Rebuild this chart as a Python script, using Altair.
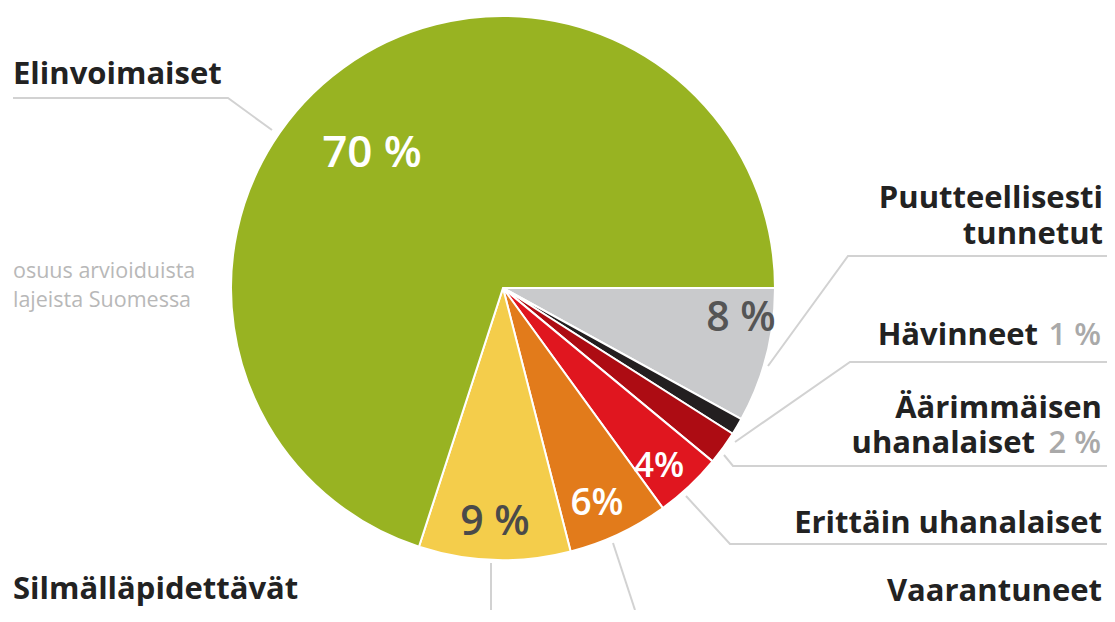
import math
import altair as alt
import pandas as pd

# ---- data ----
categories = ["Puutteellisesti tunnetut", "Hävinneet", "Äärimmäisen uhanalaiset",
              "Erittäin uhanalaiset", "Vaarantuneet", "Silmälläpidettävät", "Elinvoimaiset"]
shares = [8, 1, 2, 4, 6, 9, 70]
colors = ["#c9cacc", "#231f20", "#ad0c13", "#e0161f", "#e27b1b", "#f4cd4b", "#98b322"]

pct_labels = ["8 %", "9 %", "6%", "4%", "70 %"]

# ---- layout (image pixel coordinates) ----
W, H = 1099, 602
CX, CY, R = 503, 288, 272

pie_df = pd.DataFrame({"cat": categories, "value": shares, "idx": list(range(len(categories)))})

xs = alt.Scale(domain=[8, 8 + W], nice=False, zero=False)
ys = alt.Scale(domain=[8, 8 + H], nice=False, zero=False, reverse=True)

pie = alt.Chart(pie_df).mark_arc(outerRadius=R, stroke="white", strokeWidth=2).encode(
    theta=alt.Theta("value:Q", stack=True,
                    scale=alt.Scale(range=[math.pi / 2, math.pi / 2 + 2 * math.pi])),
    color=alt.Color("cat:N", scale=alt.Scale(domain=categories, range=colors), legend=None),
    order=alt.Order("idx:Q"),
    x=alt.value(CX - 8),
    y=alt.value(CY - 8),
)

# leader lines
lines = [
    ("a", [(13, 98), (228, 98), (272, 130)]),
    ("b", [(1107, 256), (848, 256), (768, 366)]),
    ("c", [(1107, 362), (850, 362), (735, 442)]),
    ("d", [(1107, 466), (733, 466), (724, 455)]),
    ("e", [(1107, 544), (730, 544), (686, 496)]),
    ("f", [(613, 543), (635, 610)]),
    ("g", [(491, 563), (491, 610)]),
]
rows = []
for lid, pts in lines:
    for i, (x, y) in enumerate(pts):
        rows.append({"lid": lid, "o": i, "x": x, "y": y})
line_df = pd.DataFrame(rows)
leaders = alt.Chart(line_df).mark_line(color="#d2d2d2", strokeWidth=2, clip=True).encode(
    x=alt.X("x:Q", scale=xs, axis=None),
    y=alt.Y("y:Q", scale=ys, axis=None),
    detail="lid:N",
    order="o:Q",
)

FONT = "Open Sans"
FS = 31

left_df = pd.DataFrame({"t": ["Elinvoimaiset", "Silmälläpidettävät"], "x": [13, 13], "y": [84, 599]})
left_txt = alt.Chart(left_df).mark_text(align="left", baseline="alphabetic", font=FONT,
                                        fontWeight="bold", fontSize=FS, color="#222222").encode(
    x=alt.X("x:Q", scale=xs, axis=None), y=alt.Y("y:Q", scale=ys, axis=None), text="t:N")

two_line_df = pd.DataFrame({"t": ["Puutteellisesti\ntunnetut"], "x": [1103], "y": [208]})
two_line_txt = alt.Chart(two_line_df).mark_text(
    align="right", baseline="alphabetic", font=FONT, fontWeight="bold", fontSize=FS,
    color="#222222", lineBreak="\n", lineHeight=36).encode(
    x=alt.X("x:Q", scale=xs, axis=None), y=alt.Y("y:Q", scale=ys, axis=None), text="t:N")

right_df = pd.DataFrame({
    "t": ["Hävinneet", "Äärimmäisen", "uhanalaiset", "Erittäin uhanalaiset", "Vaarantuneet"],
    "x": [1038, 1102, 1035, 1102, 1102],
    "y": [345, 418, 453, 533, 601],
})
right_txt = alt.Chart(right_df).mark_text(align="right", baseline="alphabetic", font=FONT,
                                          fontWeight="bold", fontSize=FS, color="#222222").encode(
    x=alt.X("x:Q", scale=xs, axis=None), y=alt.Y("y:Q", scale=ys, axis=None), text="t:N")

gp_df = pd.DataFrame({"t": ["1 %", "2 %"], "x": [1101, 1101], "y": [345, 453]})
gp_txt = alt.Chart(gp_df).mark_text(align="right", baseline="alphabetic", font=FONT,
                                    fontWeight=600, fontSize=FS, color="#a9a9a9").encode(
    x=alt.X("x:Q", scale=xs, axis=None), y=alt.Y("y:Q", scale=ys, axis=None), text="t:N")

note_df = pd.DataFrame({"t": ["osuus arvioiduista", "lajeista Suomessa"], "x": [13, 13], "y": [278, 307]})
note_txt = alt.Chart(note_df).mark_text(align="left", baseline="alphabetic", font=FONT,
                                        fontSize=21.5, color="#b8b8b8").encode(
    x=alt.X("x:Q", scale=xs, axis=None), y=alt.Y("y:Q", scale=ys, axis=None), text="t:N")

pct_df = pd.DataFrame({
    "t": pct_labels,
    "x": [741, 495, 597, 659, 372],
    "y": [331, 535, 515, 477, 167],
    "c": ["#555555", "#4a4a4a", "#ffffff", "#ffffff", "#ffffff"],
    "s": [41, 41, 37, 35, 44],
})
pct_txt = alt.Chart(pct_df).mark_text(align="center", baseline="alphabetic", font=FONT,
                                      fontWeight=600).encode(
    x=alt.X("x:Q", scale=xs, axis=None), y=alt.Y("y:Q", scale=ys, axis=None), text="t:N",
    color=alt.Color("c:N", scale=None), size=alt.Size("s:Q", scale=None))

chart = alt.layer(leaders, pie, left_txt, two_line_txt, right_txt, gp_txt, note_txt, pct_txt).properties(
    width=W, height=H, padding=0, background="white",
    autosize=alt.AutoSizeParams(type="none"),
).configure_view(stroke=None)

chart.save("out.html", embed_options={"renderer": "svg", "actions": False})
